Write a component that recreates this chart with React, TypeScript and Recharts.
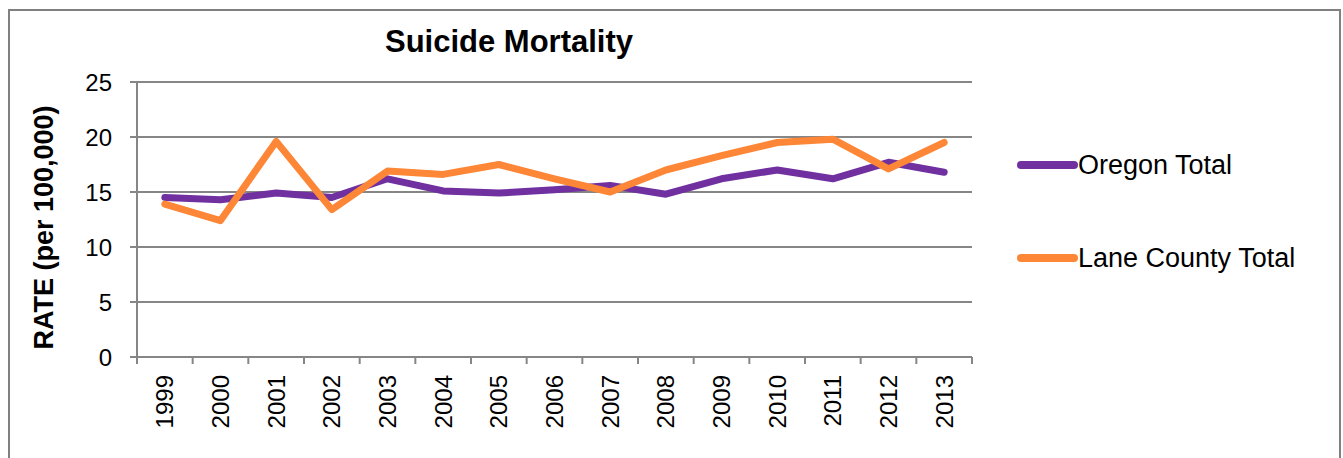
import { LineChart, Line, XAxis, YAxis, CartesianGrid, Label } from "recharts";

// Suicide mortality rates per 100,000
const years = ["1999", "2000", "2001", "2002", "2003", "2004", "2005", "2006", "2007", "2008", "2009", "2010", "2011", "2012", "2013"];
const oregonTotal = [14.5, 14.3, 14.9, 14.5, 16.2, 15.1, 14.9, 15.2, 15.6, 14.8, 16.2, 17.0, 16.2, 17.7, 16.8];
const laneCountyTotal = [13.9, 12.4, 19.6, 13.4, 16.9, 16.6, 17.5, 16.2, 15.0, 17.0, 18.3, 19.5, 19.8, 17.1, 19.5];
const yTicks = [0, 5, 10, 15, 20, 25];

const PURPLE = "#7030A0";
const ORANGE = "#FD8637";
const GRID = "#868686";
const FONT = "'Liberation Sans', Arial, sans-serif";

// points sit in the middle of each category slot, ticks at the slot edges
const data = years.map((year, i) => ({
  pos: i + 0.5,
  year,
  oregon: oregonTotal[i],
  lane: laneCountyTotal[i],
}));
const boundTicks = years.map((_, i) => i).concat(years.length);
const centerTicks = data.map((d) => d.pos);

const legendItems = [
  { name: "Oregon Total", color: PURPLE },
  { name: "Lane County Total", color: ORANGE },
];

const YearTick = ({ x, y, payload }: any) => {
  const label = years[Math.floor(payload.value)];
  return (
    <text
      x={x}
      y={y}
      transform={`rotate(-90, ${x}, ${y})`}
      textAnchor="end"
      dy="0.36em"
      fill="#000"
      fontSize={24}
      fontFamily={FONT}
    >
      {label}
    </text>
  );
};

export default function App() {
  return (
    <div style={{ position: "absolute", left: 0, top: 0, width: 1343, height: 458, overflow: "hidden", background: "#fff" }}>
      <div
        style={{
          position: "absolute",
          left: 8,
          top: 9,
          width: 1333,
          height: 470,
          border: "2px solid #808080",
          boxSizing: "border-box",
        }}
      />
      <div
        style={{
          position: "absolute",
          left: 0,
          width: 1018,
          top: 24,
          textAlign: "center",
          fontFamily: FONT,
          fontWeight: "bold",
          fontSize: 31,
          color: "#000",
        }}
      >
        Suicide Mortality
      </div>
      <div style={{ position: "absolute", left: 1013, top: 148, fontFamily: FONT, fontSize: 27, color: "#000" }}>
        {legendItems.map((it, i) => (
          <div key={it.name} style={{ display: "flex", alignItems: "center", height: 34, marginTop: i === 0 ? 0 : 59 }}>
            <svg width={65} height={10}>
              <line x1={8} y1={5} x2={61} y2={5} stroke={it.color} strokeWidth={8} strokeLinecap="round" />
            </svg>
            <span>{it.name}</span>
          </div>
        ))}
      </div>
      <div style={{ position: "absolute", left: 0, top: 0 }}>
        <LineChart width={1343} height={458} data={data} margin={{ top: 82, right: 371, left: 0, bottom: 0 }}>
          <CartesianGrid horizontal vertical={false} stroke={GRID} strokeWidth={2} />
          <XAxis
            xAxisId="bounds"
            type="number"
            dataKey="pos"
            domain={[0, years.length]}
            ticks={boundTicks}
            interval={0}
            tickFormatter={() => ""}
            height={10}
            tickSize={7}
            axisLine={{ stroke: GRID, strokeWidth: 2 }}
            tickLine={{ stroke: GRID, strokeWidth: 2 }}
          />
          <XAxis
            xAxisId="years"
            type="number"
            dataKey="pos"
            domain={[0, years.length]}
            ticks={centerTicks}
            tick={<YearTick />}
            height={91}
            tickSize={0}
            tickMargin={8}
            axisLine={false}
            tickLine={false}
            interval={0}
          />
          <YAxis
            domain={[0, 25]}
            ticks={yTicks}
            interval={0}
            width={137}
            tickSize={7}
            tickMargin={18}
            axisLine={{ stroke: GRID, strokeWidth: 2 }}
            tickLine={{ stroke: GRID, strokeWidth: 2 }}
            tick={{ fill: "#000", fontSize: 24, fontFamily: FONT }}
          >
            <Label
              content={({ viewBox }: any) => {
                const cx = viewBox.x + 43;
                const cy = viewBox.y + viewBox.height / 2 + 8;
                return (
                  <text
                    x={cx}
                    y={cy}
                    transform={`rotate(-90, ${cx}, ${cy})`}
                    textAnchor="middle"
                    dy="0.36em"
                    fontSize={27}
                    fontWeight="bold"
                    fontFamily={FONT}
                    fill="#000"
                  >
                    RATE (per 100,000)
                  </text>
                );
              }}
            />
          </YAxis>
          <Line
            xAxisId="years"
            type="linear"
            dataKey="oregon"
            name="Oregon Total"
            stroke={PURPLE}
            strokeWidth={7}
            strokeLinecap="round"
            strokeLinejoin="round"
            dot={false}
            activeDot={false}
            isAnimationActive={false}
          />
          <Line
            xAxisId="years"
            type="linear"
            dataKey="lane"
            name="Lane County Total"
            stroke={ORANGE}
            strokeWidth={7}
            strokeLinecap="round"
            strokeLinejoin="round"
            dot={false}
            activeDot={false}
            isAnimationActive={false}
          />
        </LineChart>
      </div>
    </div>
  );
}
